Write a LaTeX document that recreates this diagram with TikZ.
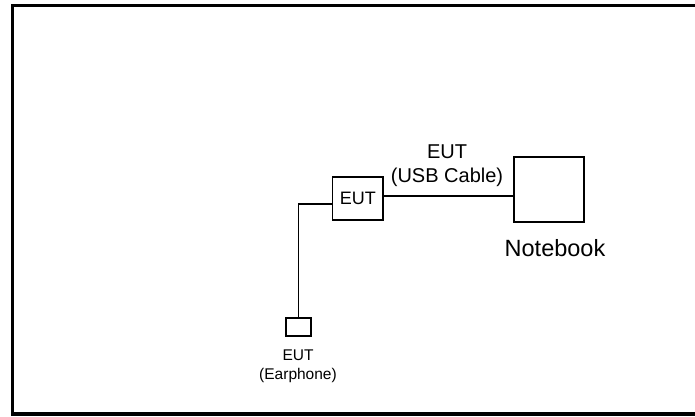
\documentclass[tikz,border=0pt]{standalone}
\usepackage{fontspec}
\setmainfont{Liberation Sans}
\usetikzlibrary{positioning}

\begin{document}
\begin{tikzpicture}[
  x=1pt, y=-1pt,
  box/.style={draw, line width=1.8pt, inner sep=0pt},
  wire/.style={line width=1.8pt},
  lbl/.style={inner sep=0pt, align=center, anchor=north}
]
  \useasboundingbox (0,0) rectangle (695,416);
  % outer frame, right edge runs off the page
  \draw[line width=3.2pt] (12.5,5.5) rectangle (712,414);
  \node[box, minimum width=50.5pt, minimum height=43.2pt, font=\fontsize{18}{21}\selectfont] (eut) at (357.8,198.5) {EUT};
  \node[box, minimum width=70.2pt, minimum height=65.2pt] (nb) at (549,189.5) {};
  \node[box, minimum width=25.2pt, minimum height=18.2pt] (ear) at (298.5,327) {};
  \node[lbl, font=\fontsize{20}{24}\selectfont] (usblabel) at (447,145) {EUT\\(USB Cable)};
  \node[lbl, font=\fontsize{23.5}{27}\selectfont] (nblabel) at (555,239) {Notebook};
  \node[lbl, font=\fontsize{15.5}{19}\selectfont] (earlabel) at (298,349.5) {EUT\\(Earphone)};
  \draw[wire] ([yshift=2.5pt]eut.east) -- ([yshift=2.5pt]eut.east -| nb.west);
  \draw[wire] ([yshift=-5.5pt]eut.west) -| (ear.north);
\end{tikzpicture}
\end{document}
